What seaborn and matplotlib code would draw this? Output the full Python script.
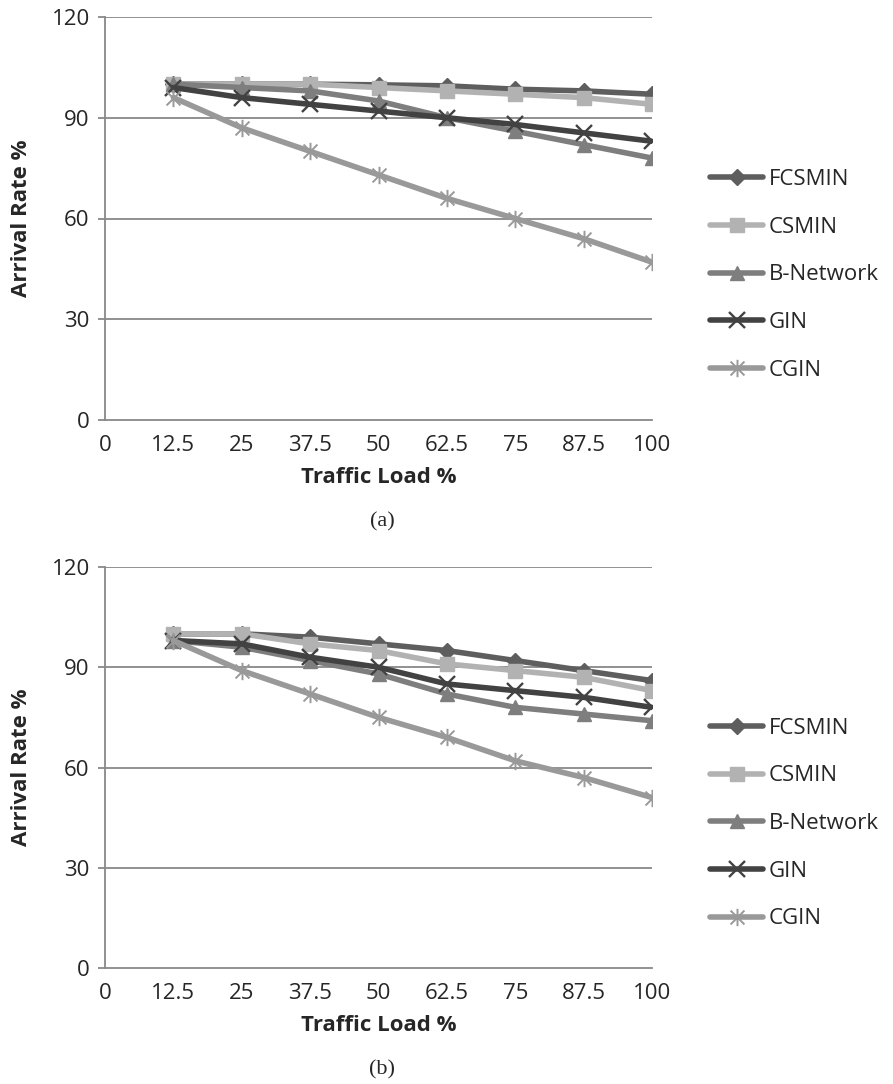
import numpy as np
import pandas as pd
import matplotlib
matplotlib.use("Agg")
import matplotlib.pyplot as plt
from matplotlib.path import Path
import seaborn as sns

# ---- data ----
traffic_load = [12.5, 25, 37.5, 50, 62.5, 75, 87.5, 100]
series_names = ["FCSMIN", "CSMIN", "B-Network", "GIN", "CGIN"]

a_fcsmin = [100, 100, 100, 99.8, 99.5, 98.5, 98, 97]
a_csmin = [100, 100, 100, 99, 98, 97, 96, 94]
a_bnet = [100, 99, 98, 95, 90, 86, 82, 78]
a_gin = [99, 96, 94, 92, 90, 88, 85.5, 83]
a_cgin = [96, 87, 80, 73, 66, 60, 54, 47]

b_fcsmin = [100, 100, 99, 97, 95, 92, 89, 86]
b_csmin = [100, 100, 97, 95, 91, 89, 87, 83]
b_bnet = [98, 96, 92, 88, 82, 78, 76, 74]
b_gin = [98, 97, 93, 90, 85, 83, 81, 78]
b_cgin = [98, 89, 82, 75, 69, 62, 57, 51]

y_ticks = [0, 30, 60, 90, 120]
x_ticks = [0, 12.5, 25, 37.5, 50, 62.5, 75, 87.5, 100]
x_ticklabels = ["0", "12.5", "25", "37.5", "50", "62.5", "75", "87.5", "100"]

panel_a = [a_fcsmin, a_csmin, a_bnet, a_gin, a_cgin]
panel_b = [b_fcsmin, b_csmin, b_bnet, b_gin, b_cgin]

# ---- styles ----
asterisk = Path(
    [(-1, -1), (1, 1), (-1, 1), (1, -1), (0, -1.25), (0, 1.25)],
    [Path.MOVETO, Path.LINETO, Path.MOVETO, Path.LINETO, Path.MOVETO, Path.LINETO],
)
colors = ["#5e5e5e", "#b2b2b2", "#7e7e7e", "#424242", "#999999"]
markers = ["D", "s", "^", "x", asterisk]
msizes = [8.5, 9.5, 10.5, 11.5, 12.5]
mews = [1, 1, 1, 1.7, 1.4]

sns.set_style("white")
plt.rcParams["font.family"] = ["Open Sans", "DejaVu Sans"]
FS = 16

fig = plt.figure(figsize=(8.93, 10.84), dpi=100)
W, H = 893, 1084


def make_axes(left, top, right, bottom):
    return fig.add_axes([left / W, 1 - bottom / H, (right - left) / W, (bottom - top) / H])


ax_a = make_axes(105, 17, 652, 420)
ax_b = make_axes(105, 567, 652, 968)

grid_col = "#888888"
for ax, data, cap, cap_y in [(ax_a, panel_a, "(a)", 522), (ax_b, panel_b, "(b)", 1070)]:
    for name, vals, c, m, ms, mew in zip(series_names, data, colors, markers, msizes, mews):
        df = pd.DataFrame({"Traffic Load %": traffic_load, "Arrival Rate %": vals})
        sns.lineplot(
            data=df, x="Traffic Load %", y="Arrival Rate %", ax=ax,
            color=c, linewidth=4.0, marker=m, markersize=ms,
            markeredgecolor=c, markerfacecolor=c, markeredgewidth=mew,
            label=name, solid_joinstyle="round",
        )
    ax.set_xlim(0, 100)
    ax.set_ylim(0, 120)
    ax.set_yticks(y_ticks)
    ax.set_xticks(x_ticks)
    ax.set_xticklabels(x_ticklabels)
    for y in y_ticks[1:]:
        ax.axhline(y, color=grid_col, linewidth=1.3, zorder=0.5)
    for s in ["top", "right"]:
        ax.spines[s].set_visible(False)
    for s in ["left", "bottom"]:
        ax.spines[s].set_color(grid_col)
        ax.spines[s].set_linewidth(1.3)
    ax.tick_params(axis="y", length=5, width=1.3, color=grid_col, pad=6, labelsize=FS, left=True)
    ax.tick_params(axis="x", length=0, pad=11, labelsize=FS)
    ax.set_xlabel("Traffic Load %", fontsize=FS, fontweight="bold", labelpad=8)
    ax.set_ylabel("Arrival Rate %", fontsize=FS, fontweight="bold", labelpad=14)
    ax.legend(
        loc="center left", bbox_to_anchor=(1.09, 0.36), frameon=False,
        fontsize=FS, handlelength=2.4, labelspacing=1.2, borderaxespad=0,
        handletextpad=0.25,
    )
    fig.text(382 / W, 1 - cap_y / H, cap, ha="center", va="center",
             fontsize=16, family="Liberation Serif")

fig.savefig("out.png", dpi=100)
